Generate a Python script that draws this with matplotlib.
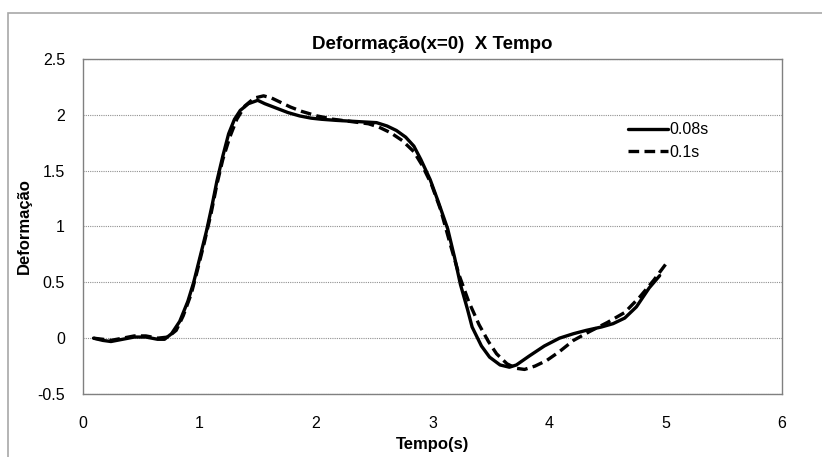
import matplotlib.pyplot as plt
from matplotlib.patches import Rectangle

plt.rcParams['font.family'] = ['Liberation Sans', 'DejaVu Sans']

# 0.08s series
t_008 = [0.09, 0.17, 0.24, 0.34, 0.44, 0.54, 0.64, 0.70, 0.76, 0.83, 0.90, 0.95,
         1.01, 1.06, 1.11, 1.15, 1.20, 1.25, 1.30, 1.35, 1.42, 1.50, 1.56, 1.66,
         1.76, 1.86, 1.96, 2.05, 2.18, 2.35, 2.52, 2.61, 2.69, 2.77, 2.84, 2.90, 2.98,
         3.05, 3.13, 3.19, 3.24, 3.30, 3.34, 3.42, 3.49, 3.58, 3.66, 3.72, 3.83,
         3.96, 4.09, 4.21, 4.32, 4.45, 4.55, 4.65, 4.75, 4.86, 4.95]
d_008 = [0.0, -0.02, -0.03, -0.01, 0.01, 0.01, -0.01, -0.01, 0.04, 0.15, 0.33, 0.5,
         0.75, 0.96, 1.2, 1.41, 1.63, 1.83, 1.96, 2.04, 2.1, 2.13, 2.1, 2.06,
         2.02, 1.99, 1.97, 1.96, 1.95, 1.94, 1.93, 1.9, 1.86, 1.8, 1.72, 1.6, 1.42,
         1.22, 0.98, 0.72, 0.48, 0.26, 0.1, -0.07, -0.17, -0.24, -0.26, -0.24, -0.16,
         -0.07, 0.0, 0.04, 0.07, 0.1, 0.13, 0.18, 0.28, 0.45, 0.56]

# 0.1s series
t_01 = [0.09, 0.17, 0.24, 0.34, 0.44, 0.54, 0.64, 0.73, 0.80, 0.86, 0.93, 0.98,
        1.04, 1.10, 1.15, 1.20, 1.26, 1.32, 1.39, 1.47, 1.55, 1.62, 1.70, 1.78,
        1.88, 2.01, 2.15, 2.30, 2.45, 2.54, 2.64, 2.74, 2.84, 2.91, 2.99, 3.07, 3.15,
        3.23, 3.31, 3.40, 3.48, 3.55, 3.64, 3.72, 3.79, 3.88, 3.98, 4.09, 4.21,
        4.35, 4.50, 4.65, 4.78, 4.90, 5.00]
d_01 = [0.0, -0.01, -0.02, 0.0, 0.02, 0.02, 0.0, 0.01, 0.07, 0.2, 0.4, 0.6,
        0.85, 1.12, 1.38, 1.6, 1.8, 1.96, 2.08, 2.15, 2.17, 2.15, 2.11, 2.07,
        2.03, 1.99, 1.96, 1.94, 1.92, 1.89, 1.84, 1.77, 1.67, 1.55, 1.38, 1.15, 0.85,
        0.56, 0.33, 0.12, -0.03, -0.14, -0.23, -0.27, -0.28, -0.25, -0.2, -0.12, -0.02,
        0.06, 0.14, 0.23, 0.37, 0.52, 0.66]

fig = plt.figure(figsize=(8.22, 4.57), dpi=100)
# outer chart-area border
fig.patches.append(Rectangle((8/822, -0.01), 1.0, 1 - 13/457 + 0.01,
                             transform=fig.transFigure, fill=False,
                             edgecolor='#a8a8a8', linewidth=1.2))
ax = fig.add_axes([83/822, 1 - 394/457, 699/822, 335/457])

ax.plot(t_008, d_008, color='black', linewidth=2.4, label='0.08s',
        solid_joinstyle='round', solid_capstyle='round')
ax.plot(t_01, d_01, color='black', linewidth=2.4, linestyle=(0, (3.2, 1.6)),
        label='0.1s')

ax.set_xlim(0, 6)
ax.set_ylim(-0.5, 2.5)
ax.set_xticks(range(0, 7))
ax.set_yticks([-0.5, 0, 0.5, 1, 1.5, 2, 2.5])
ax.set_yticklabels(['-0.5', '0', '0.5', '1', '1.5', '2', '2.5'])
ax.tick_params(length=0, labelsize=11.5)
ax.tick_params(axis='x', pad=16)
ax.tick_params(axis='y', pad=13)
ax.grid(axis='y', color='#909090', linestyle=(0, (1, 1)), linewidth=0.8)
for s in ax.spines.values():
    s.set_color('#808080')
    s.set_linewidth(1)

ax.set_title('Deformação(x=0)  X Tempo', fontsize=13.5, fontweight='bold', pad=7)
ax.set_xlabel('Tempo(s)', fontsize=12, fontweight='bold', labelpad=4)
ax.set_ylabel('Deformação', fontsize=12, fontweight='bold', labelpad=4)

ax.legend(loc='upper left', bbox_to_anchor=(0.77, 0.83), borderaxespad=0,
          frameon=False, fontsize=11.5, handlelength=2.5, handletextpad=0.1,
          labelspacing=0.45)

fig.savefig('out.png', dpi=100)
